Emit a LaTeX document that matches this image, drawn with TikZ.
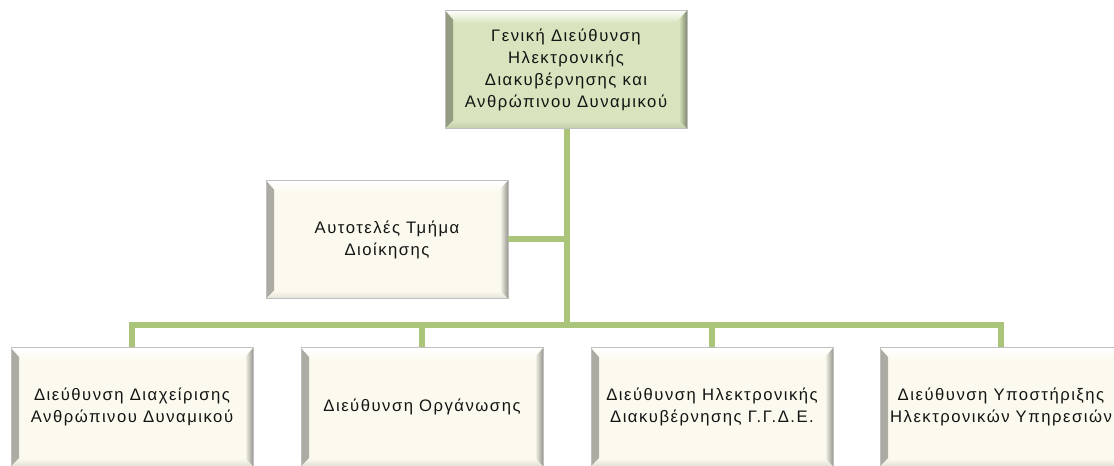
\documentclass[tikz,border=0pt]{standalone}
\usepackage{fontspec}
\usepackage{xcolor}
\usepackage{tikz}
\usetikzlibrary{positioning, calc}

\newfontfamily\grfont[LetterSpace=9]{Liberation Sans}

\definecolor{linkgreen}{RGB}{170,196,122}
\definecolor{headfill}{RGB}{215,228,189}
\definecolor{unitfill}{RGB}{252,250,238}

\begin{document}
\begin{tikzpicture}[
  x=0.75pt, y=-0.75pt,
  unit/.style={draw=gray!50, line width=0.6pt, fill=#1, minimum width=181.5pt, minimum height=89pt,
    align=center, inner sep=2pt, font=\grfont\fontsize{12.5}{16.5}\selectfont, text=black!92,
    path picture={
      \shade[left color=black!32!#1, right color=#1]
        (path picture bounding box.north west) -- ([shift={(6pt,-7pt)}]path picture bounding box.north west)
        -- ([shift={(6pt,6pt)}]path picture bounding box.south west) -- (path picture bounding box.south west) -- cycle;
      \shade[left color=#1, right color=black!40!#1]
        (path picture bounding box.north east) -- ([shift={(-6pt,-7pt)}]path picture bounding box.north east)
        -- ([shift={(-6pt,6pt)}]path picture bounding box.south east) -- (path picture bounding box.south east) -- cycle;
      \shade[top color=#1, bottom color=black!10!#1]
        (path picture bounding box.south west) -- ([shift={(6pt,6pt)}]path picture bounding box.south west)
        -- ([shift={(-6pt,6pt)}]path picture bounding box.south east) -- (path picture bounding box.south east) -- cycle;
      \shade[top color=white, bottom color=#1]
        (path picture bounding box.north west) -- (path picture bounding box.north east)
        -- ([shift={(-9pt,-10pt)}]path picture bounding box.north east) -- ([shift={(9pt,-10pt)}]path picture bounding box.north west) -- cycle;
    }},
  link/.style={draw=linkgreen, line width=4.5pt, line join=miter}
]
\useasboundingbox (0,0) rectangle (1114,466);
\clip (0,0) rectangle (1114,466);

\node[unit=headfill] (gd) at (566,69.5) {Γενική Διεύθυνση\\Ηλεκτρονικής\\Διακυβέρνησης και\\Ανθρώπινου Δυναμικού};

\node[unit=unitfill] (adm) at (387,239.5) {Αυτοτελές Τμήμα\\Διοίκησης};

\node[unit=unitfill] (d1) at (132,407) {Διεύθυνση Διαχείρισης\\Ανθρώπινου Δυναμικού};
\node[unit=unitfill] (d2) at (422,407) {Διεύθυνση Οργάνωσης};
\node[unit=unitfill] (d3) at (712,407) {Διεύθυνση Ηλεκτρονικής\\Διακυβέρνησης Γ.Γ.Δ.Ε.};
\node[unit=unitfill] (d4) at (1001,407) {Διεύθυνση Υποστήριξης\\Ηλεκτρονικών Υπηρεσιών};

\coordinate (bus) at (567,325);

\draw[link] ([xshift=0.75pt]gd.south) -- (bus);
\draw[link] (adm.east) -- (adm.east -| bus);
\draw[link] (d1.north) |- (bus) -| (d4.north);
\draw[link] (d2.north) -- (d2.north |- bus);
\draw[link] (d3.north) -- (d3.north |- bus);
\end{tikzpicture}
\end{document}
